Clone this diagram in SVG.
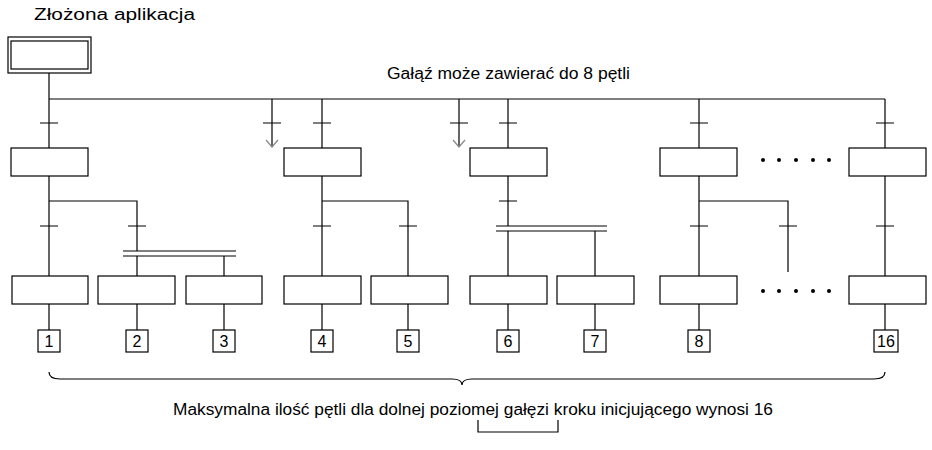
<svg xmlns="http://www.w3.org/2000/svg" width="932" height="450" viewBox="0 0 932 450">
<style>
.l{stroke:#000;stroke-width:1.2;fill:none}
.b{stroke:#000;stroke-width:1.2;fill:#fff}
.t{font-family:"Liberation Sans",Arial,sans-serif;font-size:16px;fill:#000}
.n{font-family:"Liberation Sans",Arial,sans-serif;font-size:16px;fill:#000;text-anchor:middle}
</style>
<rect width="932" height="450" fill="#fff"/>
<text class="t" x="34" y="20" textLength="161" lengthAdjust="spacingAndGlyphs">Złożona aplikacja</text>
<text class="t" x="387" y="79" textLength="243" lengthAdjust="spacingAndGlyphs">Gałąź może zawierać do 8 pętli</text>
<g id="connectors">
<path class="l" d="M49 73V276M49 99H885M272 99V147M322 99V148M459 99V147M508 99V148M699 99V148M885 99V148"/>
<path stroke="#888" fill="none" stroke-width="1.2" d="M266 140L272 147L278 140M453 140L459 147L465 140"/>
<path class="l" d="M40 123H58M263 123H281M313 123H331M450 123H468M499 123H517M690 123H708M876 123H894"/>
<path class="l" d="M49 201H137V251M40 226H58M128 226H146M123 251H236M123 256H236M137 256V276M224 256V276"/>
<path class="l" d="M322 176V276M322 201H408V276M313 226H331M399 226H417"/>
<path class="l" d="M508 176V226M499 201H517M496 226H607M496 231H607M508 231V276M595 231V276"/>
<path class="l" d="M699 176V276M699 201H788V272M690 226H708M779 226H797"/>
<path class="l" d="M885 176V276M876 226H894"/>
<path class="l" d="M49 304V330M137 304V330M224 304V330M322 304V330M408 304V330M508 304V330M595 304V330M699 304V330M885 304V330"/>
<path class="l" d="M49 372Q49 379 60 379H452Q462 379 462 385Q462 379 472 379H874Q885 379 885 372"/>
<path class="l" d="M478 420V432H558V420"/>
</g>
<g id="init"><rect class="b" x="8" y="37" width="83" height="36"/><rect class="b" x="11" y="41" width="77" height="28"/></g>
<g id="steps1">
<rect class="b" x="11" y="148" width="77" height="28"/>
<rect class="b" x="284" y="148" width="77" height="28"/>
<rect class="b" x="470" y="148" width="77" height="28"/>
<rect class="b" x="660" y="148" width="77" height="28"/>
<rect class="b" x="849" y="148" width="77" height="28"/>
</g>
<g id="steps2">
<rect class="b" x="12" y="276" width="76" height="28"/>
<rect class="b" x="98" y="276" width="77" height="28"/>
<rect class="b" x="186" y="276" width="76" height="28"/>
<rect class="b" x="284" y="276" width="77" height="28"/>
<rect class="b" x="371" y="276" width="77" height="28"/>
<rect class="b" x="470" y="276" width="77" height="28"/>
<rect class="b" x="557" y="276" width="77" height="28"/>
<rect class="b" x="660" y="276" width="77" height="28"/>
<rect class="b" x="849" y="276" width="77" height="28"/>
</g>
<g id="dots" fill="#000">
<circle cx="763" cy="160" r="2"/><circle cx="779" cy="160" r="2"/><circle cx="796" cy="160" r="2"/><circle cx="813" cy="160" r="2"/><circle cx="829" cy="160" r="2"/>
<circle cx="763" cy="291" r="2"/><circle cx="779" cy="291" r="2"/><circle cx="796" cy="291" r="2"/><circle cx="813" cy="291" r="2"/><circle cx="829" cy="291" r="2"/>
</g>
<g id="labels">
<rect class="b" x="38" y="330" width="22" height="22"/><text class="n" x="49" y="347">1</text>
<rect class="b" x="126" y="330" width="22" height="22"/><text class="n" x="137" y="347">2</text>
<rect class="b" x="213" y="330" width="22" height="22"/><text class="n" x="224" y="347">3</text>
<rect class="b" x="311" y="330" width="22" height="22"/><text class="n" x="322" y="347">4</text>
<rect class="b" x="397" y="330" width="22" height="22"/><text class="n" x="408" y="347">5</text>
<rect class="b" x="497" y="330" width="22" height="22"/><text class="n" x="508" y="347">6</text>
<rect class="b" x="584" y="330" width="22" height="22"/><text class="n" x="595" y="347">7</text>
<rect class="b" x="688" y="330" width="22" height="22"/><text class="n" x="699" y="347">8</text>
<rect class="b" x="874" y="330" width="24" height="22"/><text class="n" x="886" y="347">16</text>
</g>
<text class="t" x="173" y="415" textLength="600" lengthAdjust="spacingAndGlyphs">Maksymalna ilość pętli dla dolnej poziomej gałęzi kroku inicjującego wynosi 16</text>
</svg>
